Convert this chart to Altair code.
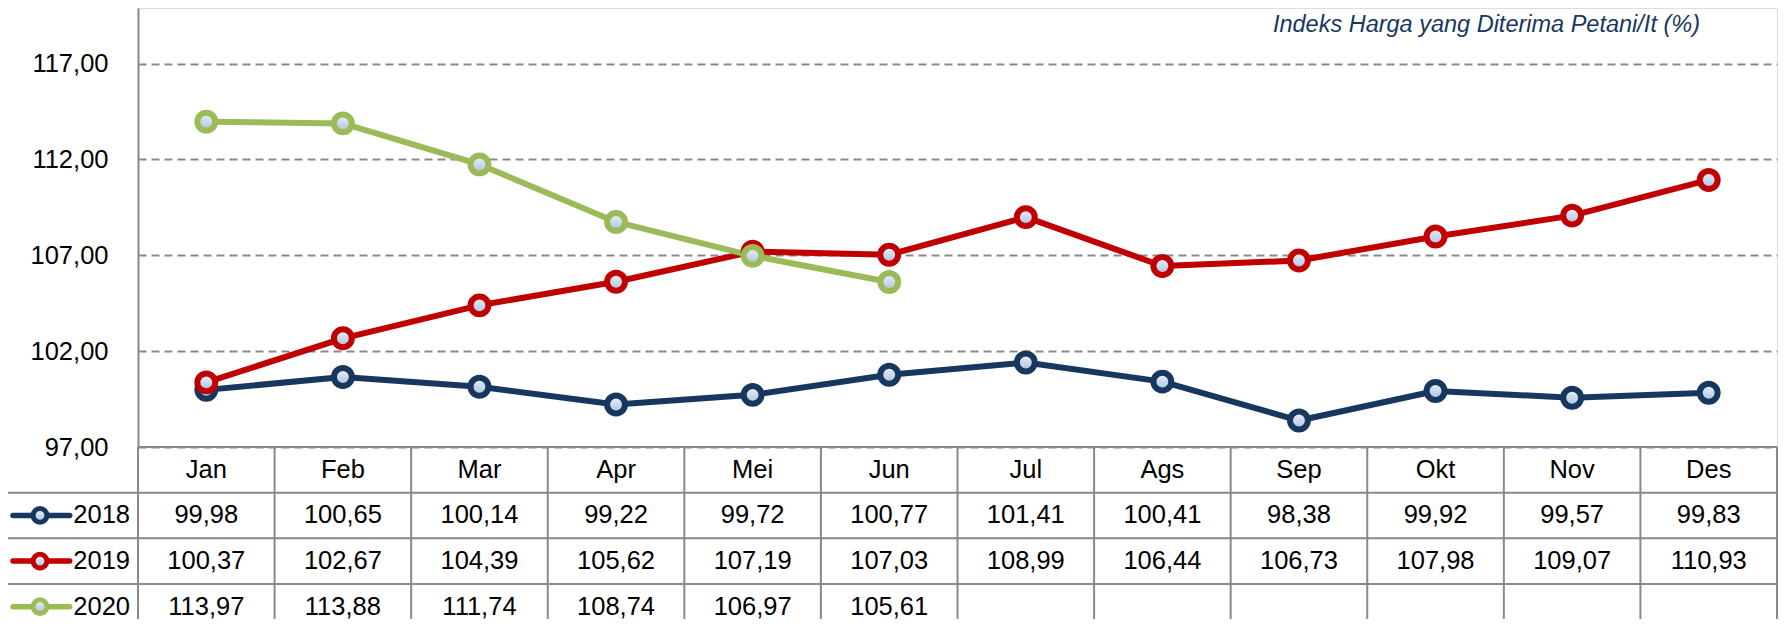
import altair as alt
import pandas as pd

# ---------------- data ----------------
months = ["Jan", "Feb", "Mar", "Apr", "Mei", "Jun", "Jul", "Ags", "Sep", "Okt", "Nov", "Des"]
years = ["2018", "2019", "2020"]
v2018 = [99.98, 100.65, 100.14, 99.22, 99.72, 100.77, 101.41, 100.41, 98.38, 99.92, 99.57, 99.83]
v2019 = [100.37, 102.67, 104.39, 105.62, 107.19, 107.03, 108.99, 106.44, 106.73, 107.98, 109.07, 110.93]
v2020 = [113.97, 113.88, 111.74, 108.74, 106.97, 105.61]
y_ticks = [97, 102, 107, 112, 117]
title_text = "Indeks Harga yang Diterima Petani/It (%)"

# ---------------- styles ----------------
colors = ["#17375E", "#C00000", "#9BBB59"]
FONT = "Liberation Sans, Arial, sans-serif"
FS = 25.5
GRAY = "#898989"
W, H = 1639, 439
n = len(months)
LEG_LEFT = -1.46

rows = []
for r, (yr, vals) in enumerate(zip(years, [v2018, v2019, v2020])):
    for i, v in enumerate(vals):
        rows.append({"year": yr, "idx": i, "month": months[i], "value": v, "row": r + 1, "yc": r + 1.5})
df = pd.DataFrame(rows)

hdr = pd.DataFrame({"idx": list(range(n)), "month": months, "yc": [0.5] * n})
hl = pd.DataFrame([{"y": 0, "x1": -0.5, "x2": n - 0.5}] +
                  [{"y": r, "x1": LEG_LEFT, "x2": n - 0.5} for r in range(1, 5)])
vl = pd.DataFrame([{"x": LEG_LEFT, "y1": 1, "y2": 4}] +
                  [{"x": k - 0.5, "y1": 0, "y2": 4} for k in range(n + 1)])
leg = pd.DataFrame({"year": years, "yc": [1.5, 2.5, 3.5],
                    "sx1": [-1.415] * 3, "sx2": [-1.0] * 3, "sxm": [-1.2175] * 3,
                    "tx": [-0.5] * 3})

xs = alt.Scale(domain=[-0.5, n - 0.5], nice=False, zero=False)
ys = alt.Scale(domain=[97, 119.9], nice=False, zero=False)
rs = alt.Scale(domain=[0, 4], range=[H, 621.5], nice=False, zero=False)
cs = alt.Scale(domain=years, range=colors)

grad = {"gradient": "linear", "x1": 0, "y1": 0, "x2": 0, "y2": 1,
        "stops": [{"offset": 0, "color": "#EEF3FA"}, {"offset": 1, "color": "#A9C0DF"}]}

yaxis = alt.Axis(values=y_ticks, labelExpr="replace(format(datum.value, '.2f'), '.', ',')",
                 grid=True, gridDash=[8, 5], gridColor=GRAY, gridWidth=1.8,
                 domainColor=GRAY, domainWidth=2, ticks=False, labelPadding=30,
                 labelFont=FONT, labelFontSize=FS, labelColor="black", title=None)

base = alt.Chart(df)
lines = base.mark_line(strokeWidth=6, strokeJoin="round").encode(
    x=alt.X("idx:Q", scale=xs, axis=None),
    y=alt.Y("value:Q", scale=ys, axis=yaxis),
    color=alt.Color("year:N", scale=cs, legend=None),
)
pts = base.mark_point(shape="circle", size=320, strokeWidth=6, filled=True, opacity=1).encode(
    x=alt.X("idx:Q", scale=xs, axis=None),
    y=alt.Y("value:Q", scale=ys, axis=yaxis),
    stroke=alt.Stroke("year:N", scale=cs, legend=None),
    fill=alt.value(grad),
)
plot = alt.layer(lines, pts)

hrules = alt.Chart(hl).mark_rule(color=GRAY, strokeWidth=2).encode(
    x=alt.X("x1:Q", scale=xs, axis=None), x2="x2:Q",
    y=alt.Y("y:Q", scale=rs, axis=None))
vrules = alt.Chart(vl).mark_rule(color=GRAY, strokeWidth=2).encode(
    x=alt.X("x:Q", scale=xs, axis=None),
    y=alt.Y("y1:Q", scale=rs, axis=None), y2="y2:Q")
htext = alt.Chart(hdr).mark_text(font=FONT, fontSize=FS, color="black", baseline="middle").encode(
    x=alt.X("idx:Q", scale=xs, axis=None),
    y=alt.Y("yc:Q", scale=rs, axis=None), text="month:N")
ctext = alt.Chart(df).transform_calculate(
    lab="replace(format(datum.value, '.2f'), '.', ',')"
).mark_text(font=FONT, fontSize=FS, color="black", baseline="middle").encode(
    x=alt.X("idx:Q", scale=xs, axis=None),
    y=alt.Y("yc:Q", scale=rs, axis=None), text="lab:N")
lrule = alt.Chart(leg).mark_rule(strokeWidth=5.5, strokeCap="round").encode(
    x=alt.X("sx1:Q", scale=xs, axis=None), x2="sx2:Q",
    y=alt.Y("yc:Q", scale=rs, axis=None),
    color=alt.Color("year:N", scale=cs, legend=None))
lpt = alt.Chart(leg).mark_point(shape="circle", size=190, strokeWidth=5, filled=True, opacity=1).encode(
    x=alt.X("sxm:Q", scale=xs, axis=None),
    y=alt.Y("yc:Q", scale=rs, axis=None),
    stroke=alt.Stroke("year:N", scale=cs, legend=None),
    fill=alt.value(grad))
ltext = alt.Chart(leg).mark_text(font=FONT, fontSize=FS, color="black", baseline="middle",
                                 align="right", dx=-8).encode(
    x=alt.X("tx:Q", scale=xs, axis=None),
    y=alt.Y("yc:Q", scale=rs, axis=None), text="year:N")
table = alt.layer(hrules, vrules, htext, ctext, lrule, lpt, ltext)

ttl = alt.Chart(pd.DataFrame({"t": [title_text]})).mark_text(
    font=FONT, fontSize=23.5, fontStyle="italic", color="#17375E", align="right", baseline="alphabetic"
).encode(text="t:N", x=alt.value(1562), y=alt.value(24))

chart = alt.layer(plot, table, ttl).resolve_scale(y="independent").properties(
    width=W, height=H,
    padding={"left": 130, "top": 0, "right": 2, "bottom": 172},
    autosize=alt.AutoSizeParams(type="none"),
).configure_view(stroke=None).configure(background="white")

chart.save("out.html", embed_options={"renderer": "svg", "actions": False})
